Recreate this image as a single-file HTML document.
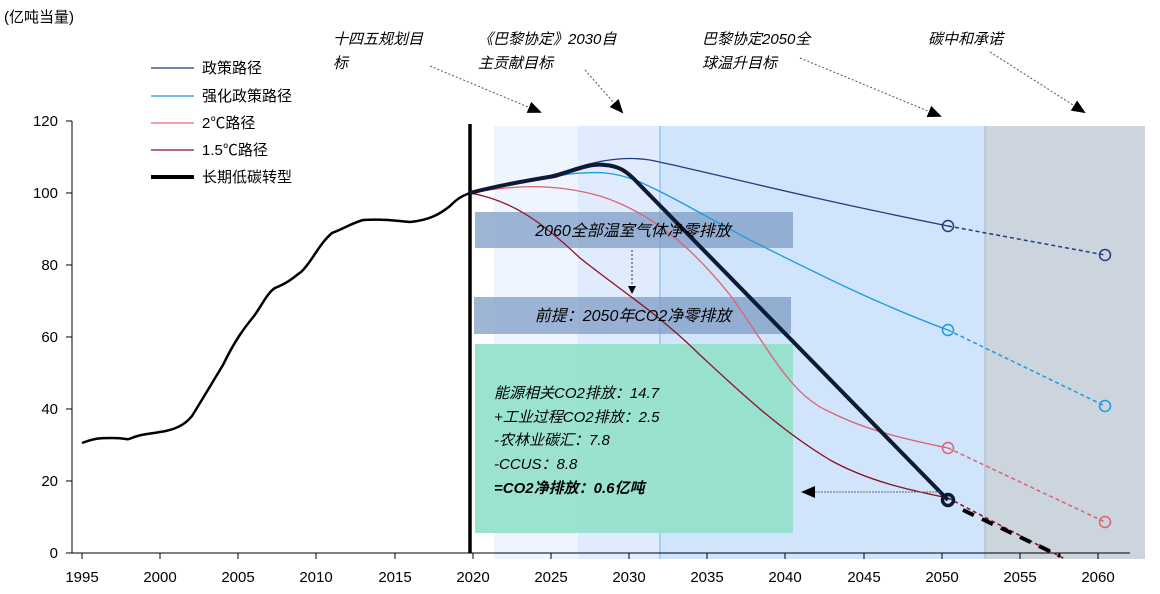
<!DOCTYPE html>
<html><head><meta charset="utf-8"><style>
body{margin:0;background:#fff}
svg{display:block;font-family:"Liberation Sans","Noto Sans CJK SC",sans-serif}
.it{font-style:italic}
</style></head><body>
<svg width="1160" height="594" viewBox="0 0 1160 594" xmlns="http://www.w3.org/2000/svg">
<defs>
<marker id="ah" markerWidth="8" markerHeight="8" refX="7" refY="4" orient="auto" markerUnits="userSpaceOnUse"><path d="M0,0L8,4L0,8z" fill="#000"/></marker>
<marker id="ab" markerWidth="14" markerHeight="12" refX="12" refY="6" orient="auto" markerUnits="userSpaceOnUse"><path d="M0,0L14,6L0,12z" fill="#000"/></marker>
</defs>
<rect x="494" y="126" width="84" height="433" fill="#eef5fe"/>
<rect x="578" y="126" width="82" height="433" fill="#e0ecfd"/>
<rect x="660" y="126" width="325" height="433" fill="#d0e4fb"/>
<line x1="660" y1="126" x2="660" y2="559" stroke="#a8ccf5" stroke-width="2"/>
<rect x="985" y="126" width="160" height="433" fill="#ccd4de"/>
<line x1="985" y1="126" x2="985" y2="559" stroke="#aab4c0"/>
<rect x="475" y="212" width="318" height="36" fill="#7f9cc6" fill-opacity="0.75"/>
<rect x="474" y="297" width="317" height="37" fill="#7f9cc6" fill-opacity="0.75"/>
<rect x="475" y="344" width="318" height="189" fill="#96e0cc" fill-opacity="0.95"/>
<text x="4" y="22" font-size="15">(亿吨当量)</text>
<line x1="72" y1="121" x2="72" y2="553" stroke="#000"/>
<line x1="72" y1="553" x2="1130" y2="553" stroke="#000"/>
<g font-size="15" text-anchor="end">
<text x="58" y="558">0</text><text x="58" y="486">20</text><text x="58" y="414">40</text>
<text x="58" y="342">60</text><text x="58" y="270">80</text><text x="58" y="198">100</text><text x="58" y="126">120</text>
</g>
<g stroke="#000">
<line x1="66" y1="553" x2="72" y2="553"/><line x1="66" y1="481" x2="72" y2="481"/><line x1="66" y1="409" x2="72" y2="409"/><line x1="66" y1="337" x2="72" y2="337"/><line x1="66" y1="265" x2="72" y2="265"/><line x1="66" y1="193" x2="72" y2="193"/><line x1="66" y1="121" x2="72" y2="121"/>
<line x1="82" y1="553" x2="82" y2="559"/><line x1="160" y1="553" x2="160" y2="559"/><line x1="238" y1="553" x2="238" y2="559"/><line x1="316" y1="553" x2="316" y2="559"/><line x1="395" y1="553" x2="395" y2="559"/><line x1="473" y1="553" x2="473" y2="559"/><line x1="551" y1="553" x2="551" y2="559"/><line x1="629" y1="553" x2="629" y2="559"/><line x1="707" y1="553" x2="707" y2="559"/><line x1="785" y1="553" x2="785" y2="559"/><line x1="864" y1="553" x2="864" y2="559"/><line x1="942" y1="553" x2="942" y2="559"/><line x1="1020" y1="553" x2="1020" y2="559"/><line x1="1098" y1="553" x2="1098" y2="559"/>
</g>
<g font-size="15" text-anchor="middle">
<text x="82" y="582">1995</text><text x="160" y="582">2000</text><text x="238" y="582">2005</text><text x="316" y="582">2010</text><text x="395" y="582">2015</text><text x="473" y="582">2020</text><text x="551" y="582">2025</text><text x="629" y="582">2030</text><text x="707" y="582">2035</text><text x="785" y="582">2040</text><text x="864" y="582">2045</text><text x="942" y="582">2050</text><text x="1020" y="582">2055</text><text x="1098" y="582">2060</text>
</g>
<line x1="470" y1="124" x2="470" y2="553" stroke="#000" stroke-width="3.5"/>
<path d="M82,443 C95,438 100,438 113,438 C125,438 128,440 129,439 C140,434 150,434 160,432 C175,430 185,425 192,416 C205,395 215,378 223,365 C235,340 245,327 254,316 C262,305 268,292 275,288 C290,282 295,276 301,272 C312,262 318,245 332,233 C345,228 350,224 363,220 C380,219 390,220 410,222 C430,220 440,214 450,206 C458,198 462,196 470,193" fill="none" stroke="#000" stroke-width="2.5"/>
<path d="M470,193 C500,186 540,180 575,168 C600,160 625,156 650,160 C700,170 780,192 948,226" fill="none" stroke="#1f3f7a" stroke-width="1.3"/>
<path d="M948,226 L1105,255" fill="none" stroke="#1f3f7a" stroke-width="1.5" stroke-dasharray="4,3"/>
<path d="M470,193 C510,185 545,178 570,174 C600,171 615,172 640,182 C680,200 720,225 760,245 C820,275 880,305 948,330" fill="none" stroke="#1a9be0" stroke-width="1.3"/>
<path d="M948,330 L1105,406" fill="none" stroke="#1a9be0" stroke-width="1.5" stroke-dasharray="4,3"/>
<path d="M470,193 C510,186 550,182 600,196 C650,212 690,245 730,295 C770,350 790,395 830,412 C870,432 910,440 948,448" fill="none" stroke="#e0606e" stroke-width="1.3"/>
<path d="M948,448 L1105,522" fill="none" stroke="#e0606e" stroke-width="1.5" stroke-dasharray="4,3"/>
<path d="M470,193 C510,200 540,220 580,258 C620,290 660,315 700,355 C740,392 780,430 830,460 C870,482 910,490 948,498" fill="none" stroke="#8b1020" stroke-width="1.3"/>
<path d="M948,498 L1065,559" fill="none" stroke="#8b1020" stroke-width="1.5" stroke-dasharray="4,3"/>
<path d="M470,193 C500,185 530,180 555,176 C575,170 590,163 605,165 C618,166 625,170 635,180 L948,500" fill="none" stroke="#0d1a33" stroke-width="4" stroke-linejoin="round"/>
<path d="M963,510 L1060,556" fill="none" stroke="#000" stroke-width="4" stroke-dasharray="12,9"/>
<g fill="none" stroke-width="1.5">
<circle cx="948" cy="226" r="5.5" stroke="#1f3f7a"/><circle cx="1105" cy="255" r="5.5" stroke="#1f3f7a"/>
<circle cx="948" cy="330" r="5.5" stroke="#1a9be0"/><circle cx="1105" cy="406" r="5.5" stroke="#1a9be0"/>
<circle cx="948" cy="448" r="5.5" stroke="#e0606e"/><circle cx="1105" cy="522" r="5.5" stroke="#e0606e"/>
<circle cx="948" cy="500" r="5.5" stroke="#0d1a33" stroke-width="3.5"/>
</g>
<text x="633" y="236" font-size="16" text-anchor="middle" class="it">2060全部温室气体净零排放</text>
<text x="633" y="321" font-size="16" text-anchor="middle" class="it">前提：2050年CO2净零排放</text>
<line x1="632" y1="250" x2="632" y2="293" stroke="#333" stroke-dasharray="2,2" marker-end="url(#ah)"/>
<g font-size="15" class="it">
<text x="494" y="398">能源相关CO2排放：14.7</text>
<text x="494" y="422">+工业过程CO2排放：2.5</text>
<text x="494" y="445">-农林业碳汇：7.8</text>
<text x="494" y="469">-CCUS：8.8</text>
<text x="494" y="493" font-weight="bold">=CO2净排放：0.6亿吨</text>
</g>
<line x1="940" y1="492" x2="803" y2="492" stroke="#666" stroke-dasharray="2,1" marker-end="url(#ab)"/>
<g font-size="15" class="it">
<text x="333" y="44">十四五规划目</text><text x="333" y="68">标</text>
<text x="478" y="44">《巴黎协定》2030自</text><text x="478" y="68">主贡献目标</text>
<text x="702" y="44">巴黎协定2050全</text><text x="702" y="68">球温升目标</text>
<text x="928" y="44">碳中和承诺</text>
</g>
<g stroke="#555" stroke-dasharray="2,2" fill="none">
<line x1="430" y1="66" x2="540" y2="112" marker-end="url(#ab)"/>
<line x1="585" y1="70" x2="622" y2="112" marker-end="url(#ab)"/>
<line x1="800" y1="58" x2="940" y2="116" marker-end="url(#ab)"/>
<line x1="990" y1="52" x2="1084" y2="112" marker-end="url(#ab)"/>
</g>
<g font-size="15">
<line x1="151" y1="68" x2="194" y2="68" stroke="#1f3f7a" stroke-width="1.3"/><text x="202" y="73">政策路径</text>
<line x1="151" y1="96" x2="194" y2="96" stroke="#1a9be0" stroke-width="1.3"/><text x="202" y="101">强化政策路径</text>
<line x1="151" y1="123" x2="194" y2="123" stroke="#f06070" stroke-width="1.3"/><text x="202" y="128">2℃路径</text>
<line x1="151" y1="150" x2="194" y2="150" stroke="#8b1020" stroke-width="1.3"/><text x="202" y="155">1.5℃路径</text>
<line x1="151" y1="177" x2="194" y2="177" stroke="#000" stroke-width="4"/><text x="202" y="182">长期低碳转型</text>
</g>
</svg>
</body></html>
